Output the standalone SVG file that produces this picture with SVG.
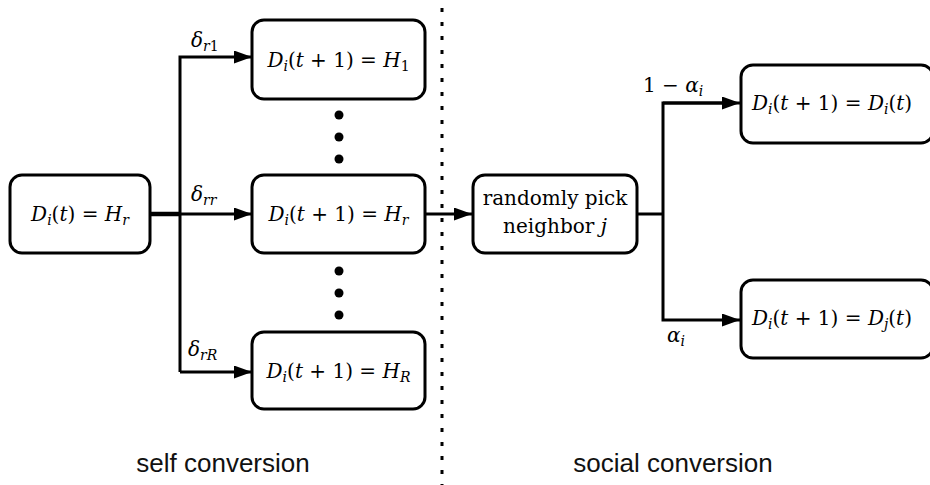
<svg xmlns="http://www.w3.org/2000/svg" width="930" height="485" viewBox="0 0 930 485">
<defs>
<marker id="ah" markerUnits="userSpaceOnUse" markerWidth="20" markerHeight="14" refX="18" refY="6.5" orient="auto">
<path d="M0,0 L18,6.5 L0,13 Z" fill="#000"/>
</marker>
<style>
.box{fill:#fff;stroke:#000;stroke-width:3}
.ln{fill:none;stroke:#000;stroke-width:3}
.m{font-family:"DejaVu Serif","Liberation Serif",serif;font-size:20px;fill:#000}
.i{font-style:italic}
.sub{font-size:14px}
.cap{font-family:"Liberation Sans",Arial,sans-serif;font-size:26px;fill:#111}
.dot{fill:#000}
</style>
</defs>
<rect width="930" height="485" fill="#fff"/>

<g id="divider">
<line x1="442" y1="8" x2="442" y2="485" stroke="#000" stroke-width="3" stroke-dasharray="4 10"/>
</g>

<g id="connectors">
<line x1="150" y1="214" x2="181" y2="214" stroke="#000" stroke-width="4.5"/>
<path class="ln" d="M180,372 V57 H252" marker-end="url(#ah)"/>
<path class="ln" d="M180,214 H252" marker-end="url(#ah)"/>
<path class="ln" d="M180,372 H252" marker-end="url(#ah)"/>
<path class="ln" d="M425,214 H472" marker-end="url(#ah)"/>
<path class="ln" d="M637,214 H663"/>
<path class="ln" d="M735,103 H663 V320 H740" marker-end="url(#ah)"/>
<path class="ln" d="M663,103 H740" marker-end="url(#ah)"/>
<text class="m i" x="191" y="47">δ<tspan class="sub" dy="4">r</tspan><tspan class="sub" font-style="normal">1</tspan></text>
<text class="m i" x="191" y="201">δ<tspan class="sub" dy="4">rr</tspan></text>
<text class="m i" x="188" y="356">δ<tspan class="sub" dy="4">rR</tspan></text>
<text class="m" x="643" y="92">1 − <tspan class="i">α</tspan><tspan class="sub i" dy="4">i</tspan></text>
<text class="m" x="667" y="342"><tspan class="i">α</tspan><tspan class="sub i" dy="4">i</tspan></text>
</g>

<g id="node-start">
<rect class="box" x="10" y="175" width="140" height="78" rx="12"/>
<text class="m" x="80" y="221" text-anchor="middle"><tspan class="i">D</tspan><tspan class="sub i" dy="4">i</tspan><tspan dy="-4">(</tspan><tspan class="i">t</tspan>) = <tspan class="i">H</tspan><tspan class="sub i" dy="4">r</tspan></text>
</g>

<g id="node-h1">
<rect class="box" x="252" y="20" width="173" height="79" rx="12"/>
<text class="m" x="338.5" y="67" text-anchor="middle"><tspan class="i">D</tspan><tspan class="sub i" dy="4">i</tspan><tspan dy="-4">(</tspan><tspan class="i">t</tspan> + 1) = <tspan class="i">H</tspan><tspan class="sub" dy="4">1</tspan></text>
</g>

<g id="dots-upper">
<circle class="dot" cx="339" cy="115" r="4.5"/>
<circle class="dot" cx="339" cy="137" r="4.5"/>
<circle class="dot" cx="339" cy="159" r="4.5"/>
</g>

<g id="node-hr">
<rect class="box" x="252" y="175" width="173" height="78" rx="12"/>
<text class="m" x="338.5" y="221" text-anchor="middle"><tspan class="i">D</tspan><tspan class="sub i" dy="4">i</tspan><tspan dy="-4">(</tspan><tspan class="i">t</tspan> + 1) = <tspan class="i">H</tspan><tspan class="sub i" dy="4">r</tspan></text>
</g>

<g id="dots-lower">
<circle class="dot" cx="339" cy="271" r="4.5"/>
<circle class="dot" cx="339" cy="293" r="4.5"/>
<circle class="dot" cx="339" cy="315" r="4.5"/>
</g>

<g id="node-hR">
<rect class="box" x="252" y="332" width="173" height="77" rx="12"/>
<text class="m" x="338.5" y="378" text-anchor="middle"><tspan class="i">D</tspan><tspan class="sub i" dy="4">i</tspan><tspan dy="-4">(</tspan><tspan class="i">t</tspan> + 1) = <tspan class="i">H</tspan><tspan class="sub i" dy="4">R</tspan></text>
</g>

<g id="node-pick">
<rect class="box" x="473" y="175" width="164" height="78" rx="12"/>
<text class="m" x="555" y="205" text-anchor="middle">randomly pick</text>
<text class="m" x="555" y="233" text-anchor="middle">neighbor <tspan class="i">j</tspan></text>
</g>

<g id="node-keep">
<rect class="box" x="741" y="65" width="192" height="78" rx="12"/>
<text class="m" x="752" y="110"><tspan class="i">D</tspan><tspan class="sub i" dy="4">i</tspan><tspan dy="-4">(</tspan><tspan class="i">t</tspan> + 1) = <tspan class="i">D</tspan><tspan class="sub i" dy="4">i</tspan><tspan dy="-4">(</tspan><tspan class="i">t</tspan>)</text>
</g>

<g id="node-copy">
<rect class="box" x="741" y="280" width="192" height="78" rx="12"/>
<text class="m" x="752" y="325"><tspan class="i">D</tspan><tspan class="sub i" dy="4">i</tspan><tspan dy="-4">(</tspan><tspan class="i">t</tspan> + 1) = <tspan class="i">D</tspan><tspan class="sub i" dy="4">j</tspan><tspan dy="-4">(</tspan><tspan class="i">t</tspan>)</text>
</g>

<g id="captions">
<text class="cap" x="223" y="472" text-anchor="middle">self conversion</text>
<text class="cap" x="673" y="472" text-anchor="middle">social conversion</text>
</g>
</svg>
